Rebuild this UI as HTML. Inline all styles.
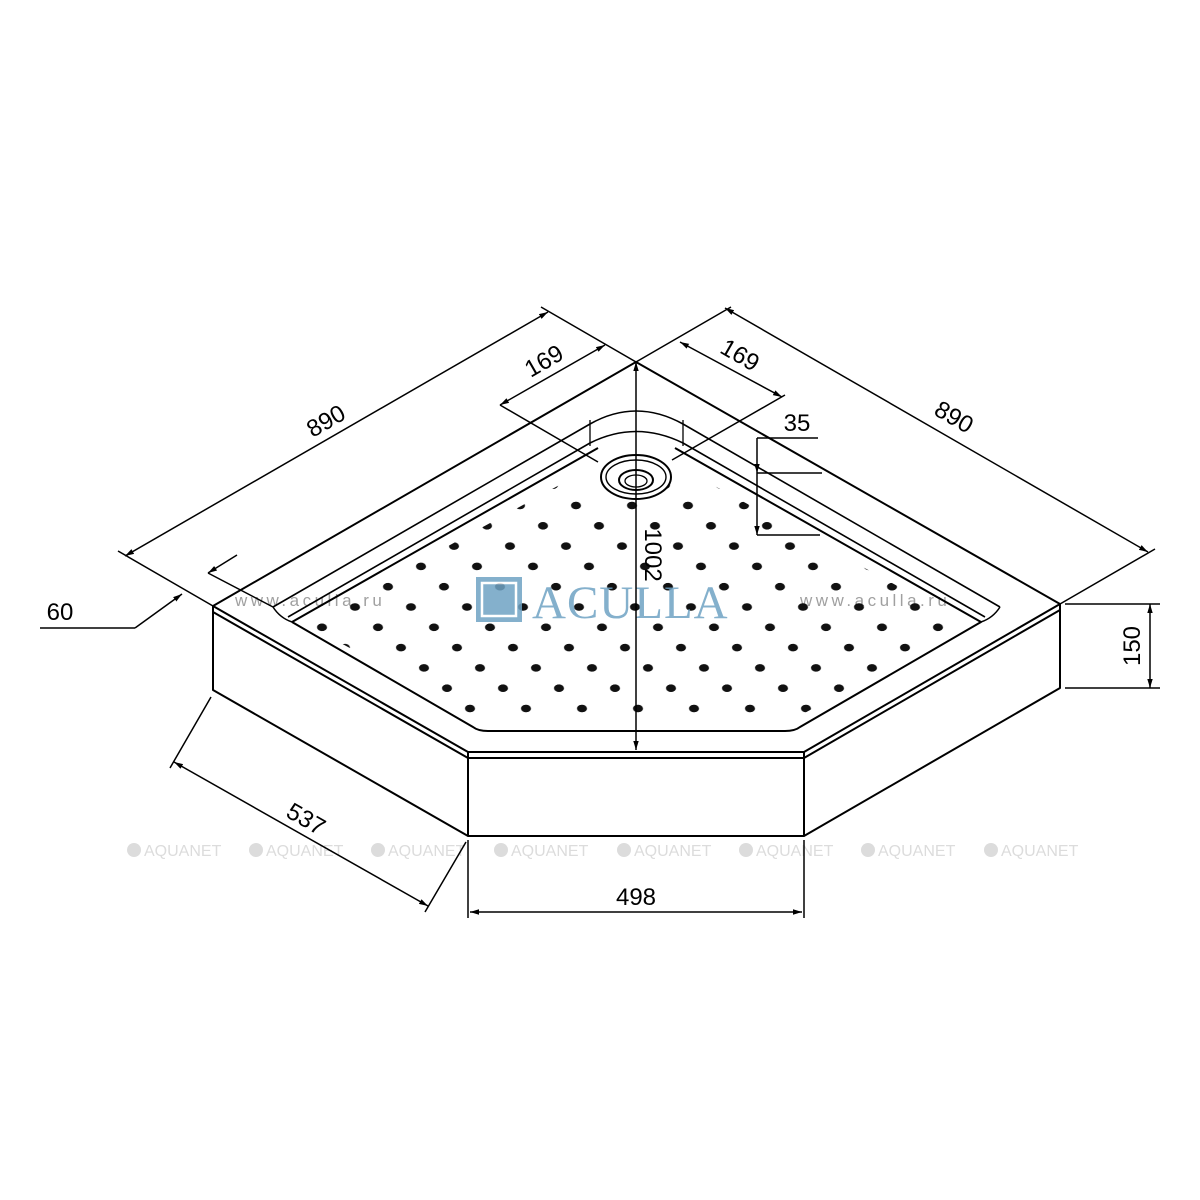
<!DOCTYPE html>
<html><head><meta charset="utf-8"><style>
html,body{margin:0;padding:0;background:#fff}
svg{display:block}
text{font-family:"Liberation Sans",sans-serif}
</style></head><body>
<svg width="1200" height="1200" viewBox="0 0 1200 1200" xmlns="http://www.w3.org/2000/svg">
<defs>
<marker id="a" viewBox="0 0 10 10" refX="10" refY="5" markerWidth="9" markerHeight="9" orient="auto-start-reverse" markerUnits="userSpaceOnUse"><path d="M0,2 L10,5 L0,8 z" fill="#000"/></marker>
<pattern id="dp" patternUnits="userSpaceOnUse" width="56" height="20.3" patternTransform="matrix(1,0,-1.6256,1,623.5,596.85)">
<ellipse rx="5" ry="3.8" fill="#111" transform="translate(28,10.15) matrix(1,0,1.6256,1,0,0)"/>
</pattern>
<clipPath id="fc"><path d="M306,624 L636,443 L967,624 L790,721 L483,721 Z"/></clipPath>
</defs>
<g fill="#dcdcdc" font-size="16">
<circle cx="134" cy="850" r="7"/><text x="144" y="856">AQUANET</text>
<circle cx="256" cy="850" r="7"/><text x="266" y="856">AQUANET</text>
<circle cx="378" cy="850" r="7"/><text x="388" y="856">AQUANET</text>
<circle cx="501" cy="850" r="7"/><text x="511" y="856">AQUANET</text>
<circle cx="624" cy="850" r="7"/><text x="634" y="856">AQUANET</text>
<circle cx="746" cy="850" r="7"/><text x="756" y="856">AQUANET</text>
<circle cx="868" cy="850" r="7"/><text x="878" y="856">AQUANET</text>
<circle cx="991" cy="850" r="7"/><text x="1001" y="856">AQUANET</text>
</g>
<g fill="#a0a0a0" font-size="17" letter-spacing="3.5">
<text x="235" y="606">www.aculla.ru</text>
<text x="800" y="606">www.aculla.ru</text>
</g>
<rect x="280" y="430" width="710" height="310" fill="url(#dp)" clip-path="url(#fc)"/>
<g fill="none" stroke="#000" stroke-width="2" stroke-linejoin="round">
<path d="M636,362 L213,606 L468,752 L804,752 L1060,604 Z"/>
<path d="M213,612 L468,758 L804,758 L1060,610"/>
<path d="M213,606 V690 L468,836 H804 L1060,688 V604"/>
<path d="M468,752 V836 M804,752 V836"/>
<path d="M273,607 L590,424 Q636,398 683,424 L1000,607" stroke-width="1.6"/>
<path d="M288,617 L590,443 Q636,420 683,443 L985,617" stroke-width="1.6"/>
<path d="M273,607 Q280,618 292,622 M1000,607 Q993,618 981,622" stroke-width="1.5"/>
<path d="M590,420 V446 M683,420 V446" stroke-width="1.3"/>
<path d="M292,622 L598,448 M675,448 L981,622 L800,727 Q795,731 785,731 L488,731 Q478,731 473,727 L292,622" stroke-width="2"/>
<ellipse cx="636" cy="477" rx="35" ry="22" fill="#fff"/>
<ellipse cx="636" cy="477" rx="30" ry="17" stroke-width="1.4"/>
<ellipse cx="636" cy="480" rx="17" ry="10"/>
<ellipse cx="636" cy="481" rx="11" ry="6" stroke-width="1.3"/>
</g>
<g opacity="0.85">
<rect x="476" y="577" width="46" height="45" fill="#6fa3c4"/>
<rect x="482" y="583" width="34" height="33" fill="none" stroke="#fff" stroke-width="2.5"/>
<text x="532" y="618" style="font-family:'Liberation Serif',serif" font-size="47" fill="#6fa3c4" letter-spacing="1">ACULLA</text>
</g>
<g fill="none" stroke="#000" stroke-width="1.5">
<path d="M213,606 L118,551 M636,362 L541,307 M636,362 L731,307 M1060,604 L1155,549"/>
<path d="M125,556 L548,312" marker-start="url(#a)" marker-end="url(#a)"/>
<path d="M725,308 L1148,552" marker-start="url(#a)" marker-end="url(#a)"/>
<path d="M598,462 L500,405"/>
<path d="M500,405 L605,345" marker-start="url(#a)" marker-end="url(#a)"/>
<path d="M672,460 L785,395"/>
<path d="M680,342 L782,397" marker-start="url(#a)" marker-end="url(#a)"/>
<path d="M757,438 H818 M757,473 H822 M757,535 H820"/>
<path d="M757,438 V473" marker-end="url(#a)"/>
<path d="M757,473 V535" marker-end="url(#a)"/>
<path d="M636,362 V750" marker-start="url(#a)" marker-end="url(#a)"/>
<path d="M40,628 H135"/>
<path d="M135,628 L182,594" marker-end="url(#a)"/>
<path d="M237,555 L208,573" marker-end="url(#a)"/>
<path d="M208,573 L273,607"/>
<path d="M1065,604 H1160 M1065,688 H1160"/>
<path d="M1150,604 V688" marker-start="url(#a)" marker-end="url(#a)"/>
<path d="M211,697 L170,768 M466,842 L425,912"/>
<path d="M174,762 L428,906" marker-start="url(#a)" marker-end="url(#a)"/>
<path d="M468,840 V918 M804,840 V918"/>
<path d="M470,912 H802" marker-start="url(#a)" marker-end="url(#a)"/>
</g>
<g font-size="24" fill="#000" text-anchor="middle">
<text transform="translate(330,428) rotate(-30)">890</text>
<text transform="translate(950,424) rotate(30)">890</text>
<text transform="translate(548,368) rotate(-30)">169</text>
<text transform="translate(736,362) rotate(30)">169</text>
<text x="797" y="431">35</text>
<text transform="translate(645,555) rotate(90)">1002</text>
<text x="60" y="620">60</text>
<text transform="translate(1140,646) rotate(-90)">150</text>
<text transform="translate(302,826) rotate(30)">537</text>
<text x="636" y="905">498</text>
</g>
</svg>
</body></html>
